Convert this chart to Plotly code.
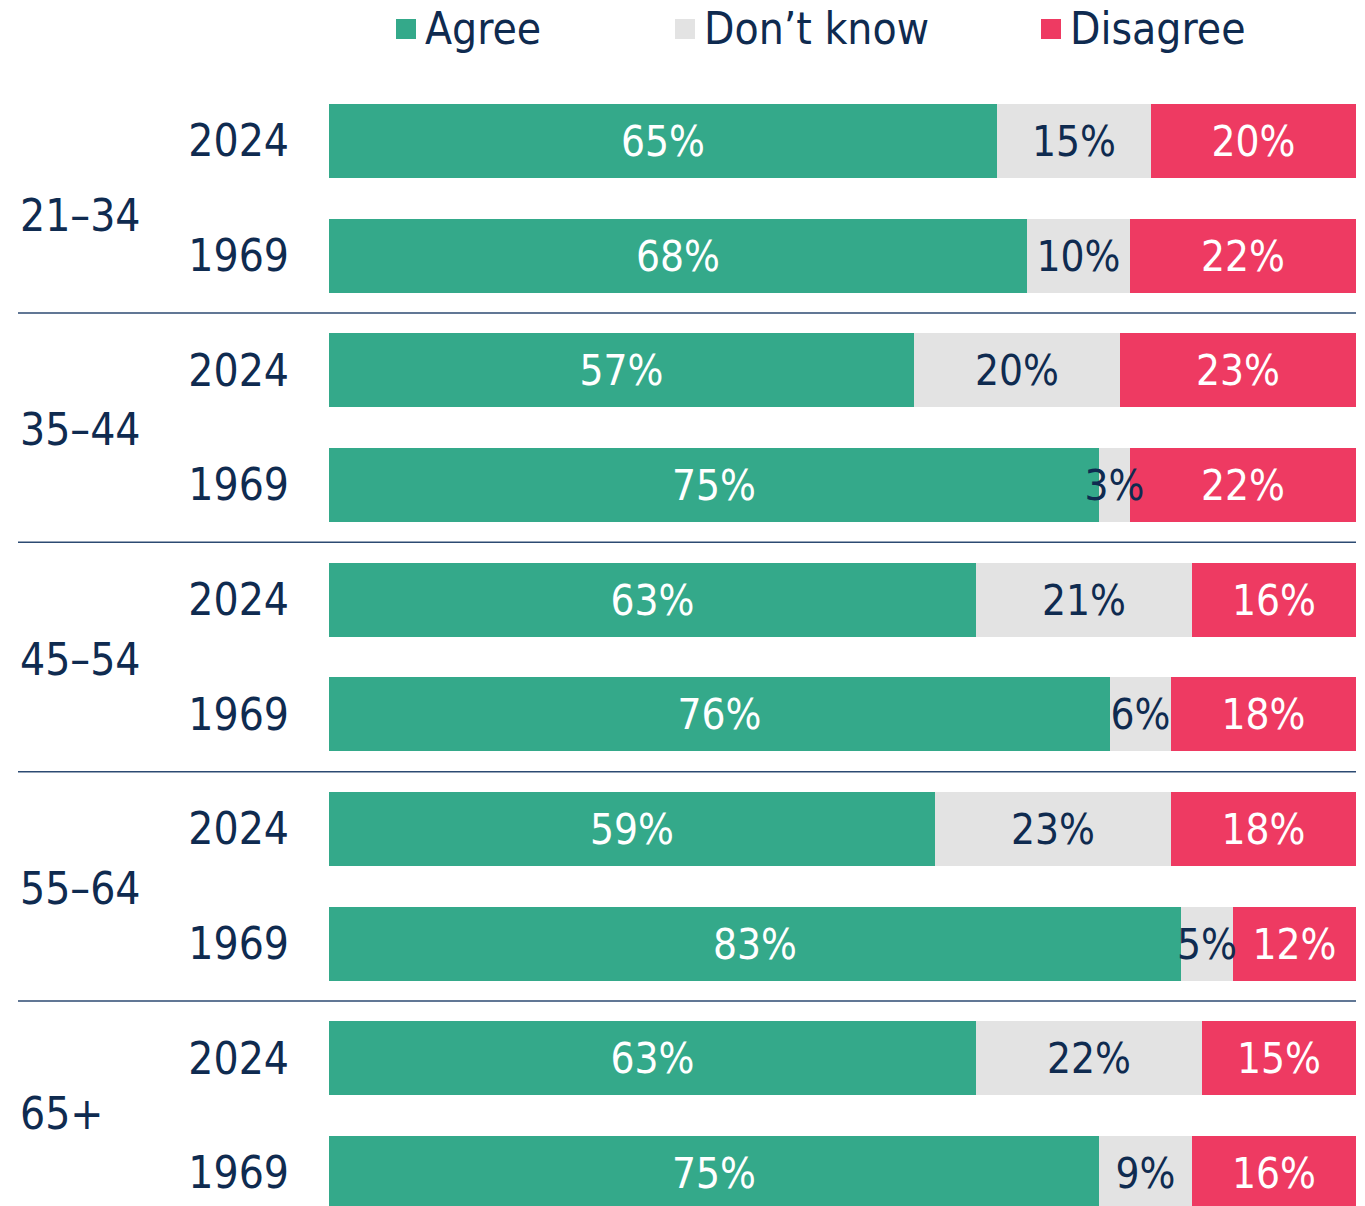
import plotly.graph_objects as go

groups = ["21–34", "35–44", "45–54", "55–64", "65+"]
years = ["2024", "1969"]
agree = [65, 68, 57, 75, 63, 76, 59, 83, 63, 75]
dont_know = [15, 10, 20, 3, 21, 6, 23, 5, 22, 9]
disagree = [20, 22, 23, 22, 16, 18, 18, 12, 15, 16]
series_names = ["Agree", "Don’t know", "Disagree"]

GREEN = "#34A98A"
GREY = "#E3E3E3"
RED = "#EE3A62"
NAVY = "#0F2B50"
FONT = "DejaVu Sans Condensed, Liberation Sans Narrow, sans-serif"

row_labels = [y for g in groups for y in years]
pos = list(range(len(row_labels)))

# stacked bases (overlay mode so the "Don't know" labels can sit on top)
base_dk = list(agree)
base_dis = [a + d for a, d in zip(agree, dont_know)]

fig = go.Figure()
traces = [
    (series_names[0], agree, None, GREEN, "white"),
    (series_names[2], disagree, base_dis, RED, "white"),
    (series_names[1], dont_know, base_dk, GREY, NAVY),
]
for name, vals, base, col, tcol in traces:
    fig.add_trace(go.Bar(
        name=name, x=vals, y=pos, base=base, orientation="h",
        marker=dict(color=col, line=dict(width=0)),
        width=0.645,
        text=[f"{v}%" for v in vals], textposition="inside",
        insidetextanchor="middle", constraintext="none", textangle=0,
        textfont=dict(color=tcol, size=42, family=FONT),
        hoverinfo="skip", showlegend=False, cliponaxis=False,
    ))

W, H = 1365, 1206
L, R, T, B = 329, 9, 84, 0
pw, ph = W - L - R, H - T - B

shapes = []
for g in range(1, len(groups)):
    yv = 2 * g - 0.5
    shapes.append(dict(type="line", xref="paper", yref="y",
                       x0=(18 - L) / pw, x1=1.0, y0=yv, y1=yv,
                       line=dict(color="#2C4A72", width=1.5)))

label_nudge = [0.15, 0.02, 0.02, 0.02, -0.02]
annotations = []
for g, name in enumerate(groups):
    annotations.append(dict(text=name, xref="paper", yref="y",
                            x=(18 - L) / pw, y=2 * g + 0.5 + label_nudge[g],
                            xanchor="left", yanchor="middle", showarrow=False,
                            font=dict(size=44, color=NAVY, family=FONT)))

# legend drawn as squares + labels at the top
legend_series = [(series_names[0], GREEN), (series_names[1], GREY), (series_names[2], RED)]
legend_x = [396, 675, 1041]
for (name, col), lx in zip(legend_series, legend_x):
    shapes.append(dict(type="rect", xref="paper", yref="paper",
                       x0=(lx - L) / pw, x1=(lx + 20 - L) / pw,
                       y0=1 + (T - 39) / ph, y1=1 + (T - 19) / ph,
                       fillcolor=col, line=dict(width=0)))
    annotations.append(dict(text=name, xref="paper", yref="paper",
                            x=(lx + 27 - L) / pw, y=1 + (T - 28) / ph,
                            xanchor="left", yanchor="middle", showarrow=False,
                            font=dict(size=44, color=NAVY, family=FONT)))

fig.update_layout(
    width=W, height=H,
    margin=dict(l=L, r=R, t=T, b=B, autoexpand=False),
    barmode="overlay", bargap=0,
    plot_bgcolor="white", paper_bgcolor="white",
    font=dict(family=FONT, color=NAVY),
    xaxis=dict(range=[0, 100], visible=False, fixedrange=True),
    yaxis=dict(range=[9.288, -0.497], tickvals=pos, ticktext=row_labels,
               showgrid=False, zeroline=False, showline=False, ticks="",
               ticklabelstandoff=39, automargin=False,
               tickfont=dict(size=44, color=NAVY, family=FONT)),
    showlegend=False,
    shapes=shapes, annotations=annotations,
)

fig.write_html("out.html", config={"displayModeBar": False},
               post_script="document.body.style.margin='0';document.body.style.overflow='hidden';")
